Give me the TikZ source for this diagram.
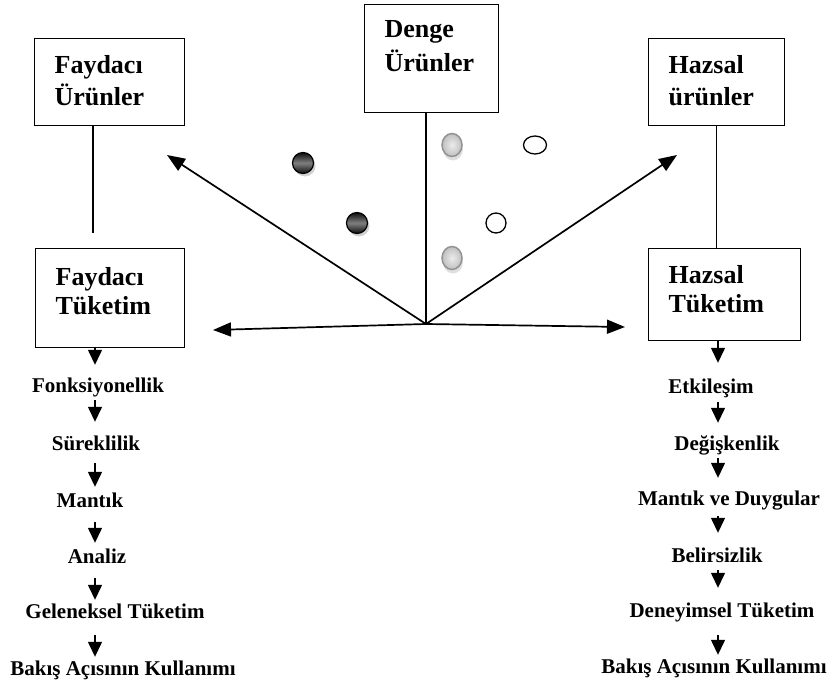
\documentclass[tikz,border=0pt]{standalone}
\usepackage{fontspec}
\setmainfont{Liberation Serif}
\usetikzlibrary{arrows.meta,shapes.geometric,shadows}

\begin{document}
\begin{tikzpicture}[x=1pt,y=-1pt,
  box/.style={rectangle,draw,line width=1.3pt,anchor=north west,
              inner xsep=20pt,inner ysep=8pt,align=left,
              font=\fontsize{26}{32}\selectfont\bfseries},
  item/.style={inner sep=0pt,anchor=base,text height=15pt,text depth=5pt,
               font=\fontsize{21}{25}\selectfont\bfseries},
  link/.style={line width=1.3pt},
  arrow/.style={-{Triangle[length=18pt,width=14pt]},line width=1.7pt},
  down/.style={-{Triangle[length=15pt,width=14pt]},line width=1.4pt},
  darkball/.style={circle,draw,line width=1.2pt,minimum size=21pt,inner sep=0pt,
                   top color=black!95,bottom color=black!95,middle color=black!50,
                   drop shadow={shadow xshift=2pt,shadow yshift=-3pt,fill=black!35}},
  greyball/.style={ellipse,draw=gray!85,line width=1.5pt,minimum width=20pt,
                   minimum height=23pt,inner sep=0pt,
                   inner color=gray!15,outer color=gray!50,
                   drop shadow={shadow xshift=1pt,shadow yshift=-4pt,fill=black!25}},
  whiteball/.style={ellipse,draw,line width=1.3pt,fill=white,inner sep=0pt}
]
\useasboundingbox (0,0) rectangle (833,685);

% boxes
\node[box,text width=110pt,text height=27pt,text depth=44pt] (fu) at (34,38)  {Faydacı\\Ürünler};
\node[box,text width=94pt, text height=25pt,text depth=67pt] (du) at (364,4)  {Denge\\[2pt]Ürünler};
\node[box,text width=96pt, text height=27pt,text depth=44pt] (hu) at (648,38) {Hazsal\\ürünler};
\node[box,text width=109pt,text height=29pt,text depth=54pt] (ft) at (35,248) {Faydacı\\[-3pt]Tüketim};
\node[box,text width=112pt,text height=27pt,text depth=49pt] (ht) at (648,248) {Hazsal\\[-3pt]Tüketim};

% hub and free ends
\coordinate (hub)   at (426,324);
\coordinate (tipFU) at (167,155);
\coordinate (tipHU) at (677,155);
\coordinate (tipFT) at (213,330);
\coordinate (tipHT) at (625,327);
\coordinate (fgap)  at (93,233);
\coordinate (colL)  at (95,0);
\coordinate (colR)  at (718,0);

\draw[link] (fu.south -| fgap) -- (fgap);
\draw[link] (du.south -| hub) -- (hub);
\draw[link] (hu.south) -- (hu.south |- ht.north);
\foreach \t in {tipFU,tipHU,tipFT,tipHT}
  \draw[arrow] (hub) -- (\t);

% balls
\node[darkball]  (d1) at (303,163) {};
\node[darkball]  (d2) at (357,223) {};
\node[greyball]  (g1) at (452,145) {};
\node[greyball]  (g2) at (452,258) {};
\node[whiteball,minimum width=23pt,minimum height=18pt] (w1) at (535,145) {};
\node[whiteball,minimum width=20pt,minimum height=20pt] (w2) at (496,223) {};

% left column
\node[item] (l1) at (98,392)  {Fonksiyonellik};
\node[item] (l2) at (96,450)  {Süreklilik};
\node[item] (l3) at (90,507)  {Mantık};
\node[item] (l4) at (97,563)  {Analiz};
\node[item] (l5) at (115,618) {Geleneksel Tüketim};
\node[item] (l6) at (123,675) {Bakış Açısının Kullanımı};

% right column
\node[item] (r1) at (711,393) {Etkileşim};
\node[item] (r2) at (727,450) {Değişkenlik};
\node[item] (r3) at (729,505) {Mantık ve Duygular};
\node[item] (r4) at (717,562) {Belirsizlik};
\node[item] (r5) at (722,617) {Deneyimsel Tüketim};
\node[item] (r6) at (714,673) {Bakış Açısının Kullanımı};

\draw[down,shorten >=12pt] (ft.south -| colL) -- (l1.north -| colL);
\foreach \a/\b/\s/\e in {l1/l2/3/13,l2/l3/8/5,l3/l4/10/5,l4/l5/10/3,l5/l6/12/3}
  \draw[down,shorten <=\s pt,shorten >=\e pt] (\a.south -| colL) -- (\b.north -| colL);

\draw[down,shorten >=15pt] (ht.south -| colR) -- (r1.north -| colR);
\foreach \a/\b/\s/\e in {r1/r2/4/12,r2/r3/3/12,r3/r4/6/14,r4/r5/3/14,r5/r6/13/3}
  \draw[down,shorten <=\s pt,shorten >=\e pt] (\a.south -| colR) -- (\b.north -| colR);
\end{tikzpicture}
\end{document}
